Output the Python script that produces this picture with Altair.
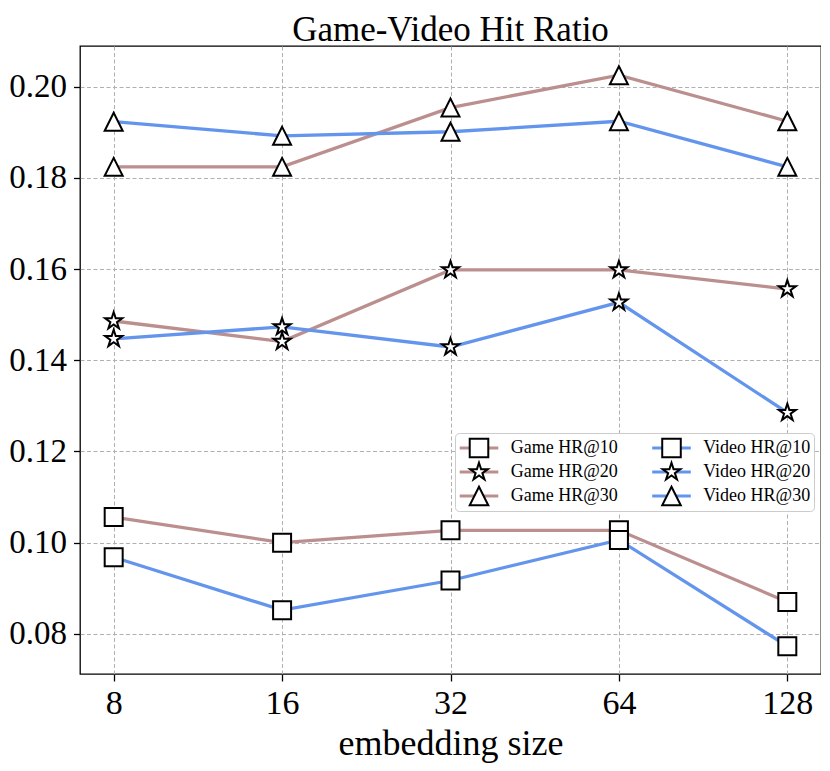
import math
import altair as alt
import pandas as pd

# ---- data ----
sizes = [8, 16, 32, 64, 128]
game_hr10 = [0.1056, 0.1000, 0.1027, 0.1027, 0.0870]
game_hr20 = [0.1486, 0.1441, 0.1598, 0.1598, 0.1556]
game_hr30 = [0.1824, 0.1824, 0.1954, 0.2025, 0.1924]
video_hr10 = [0.0968, 0.0852, 0.0917, 0.1006, 0.0773]
video_hr20 = [0.1447, 0.1473, 0.1429, 0.1527, 0.1285]
video_hr30 = [0.1923, 0.1892, 0.1901, 0.1924, 0.1824]
y_ticks = [0.08, 0.10, 0.12, 0.14, 0.16, 0.18, 0.20]

series_values = {
    "Game HR@10": game_hr10,
    "Game HR@20": game_hr20,
    "Game HR@30": game_hr30,
    "Video HR@10": video_hr10,
    "Video HR@20": video_hr20,
    "Video HR@30": video_hr30,
}
order = list(series_values.keys())
marker_order = ["m:" + n for n in order]

BROWN = "#bc8f8f"
BLUE = "#6495ed"
colors = [BROWN, BROWN, BROWN, BLUE, BLUE, BLUE]

rows = []
for name, vals in series_values.items():
    for s, v in zip(sizes, vals):
        rows.append({"size": s, "value": v, "series": name, "marker": "m:" + name})
df = pd.DataFrame(rows)

# ---- marker shapes (unit paths, scaled by Vega) ----
LS = 1490  # symbol size -> sqrt = 38.6 px box
R = 0.466


def square_path(r):
    return f"M{-r},{-r}H{r}V{r}H{-r}Z"


def triangle_path(r):
    return f"M0,{-r}L{r},{r}L{-r},{r}Z"


def star_path(r, ratio=0.381966):
    pts = []
    for k in range(10):
        a = math.radians(-90 + 36 * k)
        rr = r if k % 2 == 0 else r * ratio
        pts.append(f"{rr * math.cos(a):.4f},{rr * math.sin(a):.4f}")
    return "M" + "L".join(pts) + "Z"


shapes = [square_path(R), star_path(R), triangle_path(R),
          square_path(R), star_path(R), triangle_path(R)]
line_symbol = "M-1,0H1"

FONT = "Liberation Serif"
LEG_X = 375
LEG_Y = 387

common_legend = dict(
    title=None,
    orient="none",
    legendX=LEG_X,
    legendY=LEG_Y,
    columns=2,
    direction="vertical",
    columnPadding=32.5,
    rowPadding=0,
    clipHeight=24,
    padding=3,
    symbolOpacity=1,
    symbolOffset=0,
    labelOffset=10.7,
    labelFont=FONT,
    labelFontSize=18,
)

grid_style = dict(grid=True, gridColor="#b0b0b0", gridDash=[4, 2.5], gridWidth=1)

x_enc = alt.X(
    "size:O",
    sort=sizes,
    scale=alt.Scale(type="point", padding=0.2),
    axis=alt.Axis(
        title="embedding size",
        labelAngle=0,
        labelFont=FONT,
        labelFontSize=34,
        labelColor="black",
        labelPadding=5,
        titleFont=FONT,
        titleFontSize=36,
        titleFontWeight="normal",
        titleColor="black",
        titleBaseline="alphabetic",
        titleY=80,
        tickSize=7,
        tickWidth=1.3,
        tickColor="black",
        domain=False,
        **grid_style,
    ),
)
y_enc = alt.Y(
    "value:Q",
    scale=alt.Scale(domain=[0.0712, 0.2089], nice=False, zero=False),
    axis=alt.Axis(
        title=None,
        values=y_ticks,
        format=".2f",
        labelFont=FONT,
        labelFontSize=33,
        labelColor="black",
        labelPadding=7,
        tickSize=6.5,
        tickWidth=1.3,
        tickColor="black",
        domain=False,
        **grid_style,
    ),
)

lines = alt.Chart(df).mark_line(strokeWidth=3.3).encode(
    x=x_enc,
    y=y_enc,
    color=alt.Color(
        "series:N",
        scale=alt.Scale(domain=order, range=colors),
        legend=alt.Legend(
            symbolType=line_symbol,
            symbolSize=LS,
            symbolStrokeWidth=3.2,
            labelColor="black",
            fillColor="white",
            strokeColor="#cccccc",
            cornerRadius=4,
            **common_legend,
        ),
    ),
)

points = alt.Chart(df).mark_point(
    filled=True, fill="white", stroke="black", strokeWidth=2, opacity=1, size=LS
).encode(
    x=x_enc,
    y=y_enc,
    shape=alt.Shape(
        "marker:N",
        scale=alt.Scale(domain=marker_order, range=shapes),
        legend=alt.Legend(
            symbolSize=(math.sqrt(LS) + 1.2) ** 2,
            symbolStrokeWidth=2,
            labelExpr="slice(datum.label, 2)",
            labelOpacity=0,
            **common_legend,
        ),
    ),
)

chart = (
    alt.layer(lines, points)
    .properties(
        width=741,
        height=628,
        title=alt.TitleParams(
            "Game-Video Hit Ratio",
            font=FONT,
            fontSize=35,
            fontWeight="normal",
            color="black",
            anchor="middle",
            baseline="top",
            offset=-1.8,
        ),
        autosize=alt.AutoSizeParams(type="none"),
        padding={"left": 72, "top": 38, "right": 0, "bottom": 89},
    )
    .configure_view(stroke="black", strokeWidth=1.3)
)

chart.save("out.html", embed_options={"renderer": "svg", "actions": False})
